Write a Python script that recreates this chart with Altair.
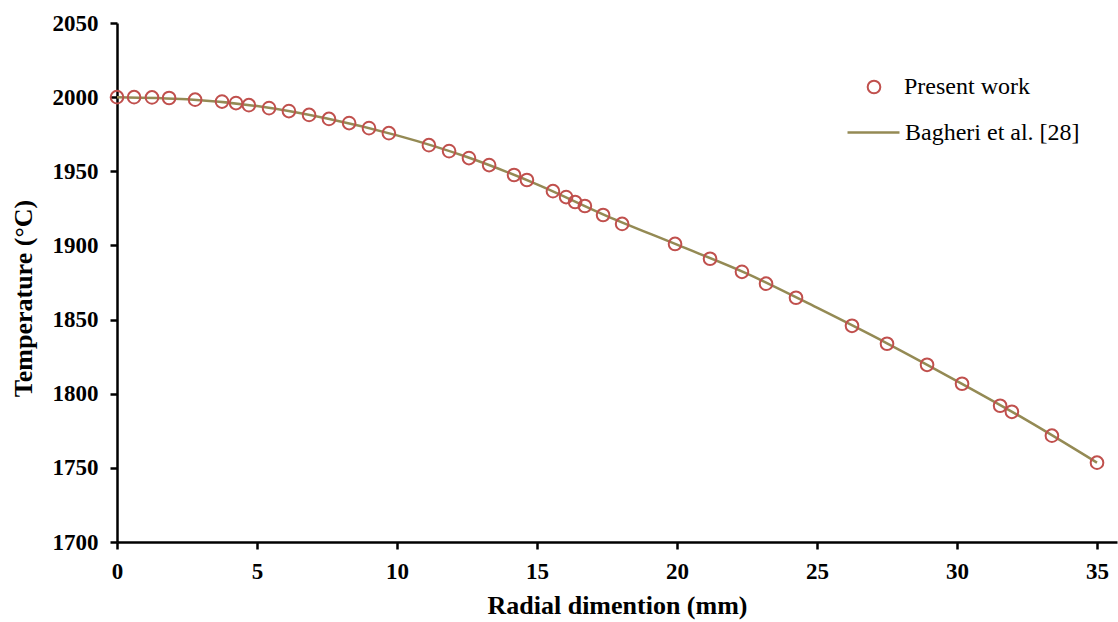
import altair as alt
import pandas as pd

# Present work (markers)
pw_r = [0, 0.61, 1.25, 1.86, 2.79, 3.75, 4.25, 4.71, 5.43, 6.14, 6.86, 7.57, 8.29, 9.0, 9.71,
        11.14, 11.86, 12.57, 13.29, 14.18, 14.64, 15.57, 16.04, 16.36, 16.71, 17.36, 18.04,
        19.93, 21.18, 22.32, 23.18, 24.25, 26.25, 27.5, 28.93, 30.18, 31.54, 31.96, 33.39, 35.0]
pw_t = [2000, 2000, 1999.8, 1999.4, 1998.3, 1997.0, 1996.0, 1994.6, 1992.6, 1990.6, 1988.0,
        1985.3, 1982.5, 1979.1, 1975.7, 1967.6, 1963.6, 1958.9, 1954.2, 1947.5, 1944.1,
        1936.6, 1932.6, 1929.3, 1926.6, 1920.5, 1914.5, 1901.0, 1891.0, 1882.2, 1874.2,
        1864.7, 1845.8, 1833.7, 1819.5, 1806.7, 1791.9, 1787.8, 1771.7, 1753.5]

# Bagheri et al. [28] (line)
bg_r = [0, 2.5, 5, 7.5, 10, 12.5, 15, 17.5, 20, 22.5, 25, 27.5, 30, 32.5, 35]
bg_t = [2000, 1998.6, 1994.0, 1985.6, 1974.2, 1959.6, 1941.2, 1919.8, 1900.5, 1881.0,
        1858.0, 1834.0, 1808.5, 1782.0, 1753.5]

x_ticks = [0, 5, 10, 15, 20, 25, 30, 35]
y_ticks = [1700, 1750, 1800, 1850, 1900, 1950, 2000, 2050]

pw = pd.DataFrame({"r": pw_r, "t": pw_t, "s": "Present work"})
bg = pd.DataFrame({"r": bg_r, "t": bg_t, "s": "Bagheri et al. [28]"})

FONT = "Liberation Serif"

common_axis = dict(grid=False, format="d", domainColor="black", domainWidth=2.5,
                   tickColor="black", tickWidth=2.5, tickSize=7, labelFontSize=23,
                   labelFont=FONT, labelFontWeight="bold", labelColor="black",
                   labelFlush=False, labelOverlap=False,
                   titleFont=FONT, titleFontSize=26, titleFontWeight="bold",
                   titleColor="black")

xenc = alt.X("r:Q", scale=alt.Scale(domain=[0, 35.714], nice=False, zero=False),
             axis=alt.Axis(values=x_ticks, title="Radial dimention (mm)", labelPadding=11,
                           titlePadding=9, **common_axis))
yenc = alt.Y("t:Q", scale=alt.Scale(domain=[1700, 2050], nice=False, zero=False),
             axis=alt.Axis(values=y_ticks, title="Temperature (°C)", labelPadding=12,
                           titlePadding=16, titleY=275, **common_axis))

line = alt.Chart(bg).mark_line(strokeWidth=2.5, interpolate="monotone").encode(
    x=xenc, y=yenc,
    stroke=alt.Stroke("s:N", scale=alt.Scale(domain=["Bagheri et al. [28]"], range=["#948A54"]),
                      legend=alt.Legend(title=None, orient="none", legendX=729, legendY=82,
                                        symbolType="stroke", symbolSize=2700, symbolStrokeWidth=2.5,
                                        labelFont=FONT, labelFontSize=24, labelColor="black",
                                        labelOffset=4, labelLimit=400, padding=0)),
)

pts = alt.Chart(pw).mark_point(shape="circle", filled=False, size=160, strokeWidth=2,
                               opacity=1).encode(
    x=xenc, y=yenc,
    color=alt.Color("s:N", scale=alt.Scale(domain=["Present work"], range=["#C0504D"]),
                    legend=alt.Legend(title=None, orient="none", legendX=745, legendY=52,
                                      symbolType="circle", symbolSize=160, symbolStrokeWidth=2,
                                      symbolOpacity=1,
                                      labelFont=FONT, labelFontSize=24, labelColor="black",
                                      labelOffset=18, labelLimit=400, padding=0)),
)

chart = alt.layer(line, pts).resolve_scale(color="independent", stroke="independent").properties(
    width=1000, height=519,
    padding={"left": 117, "top": 23, "right": 1, "bottom": 80},
    autosize=alt.AutoSizeParams(type="none"),
    background="white",
).configure_view(stroke=None)

chart.save("out.html", embed_options={"renderer": "svg", "actions": False})
